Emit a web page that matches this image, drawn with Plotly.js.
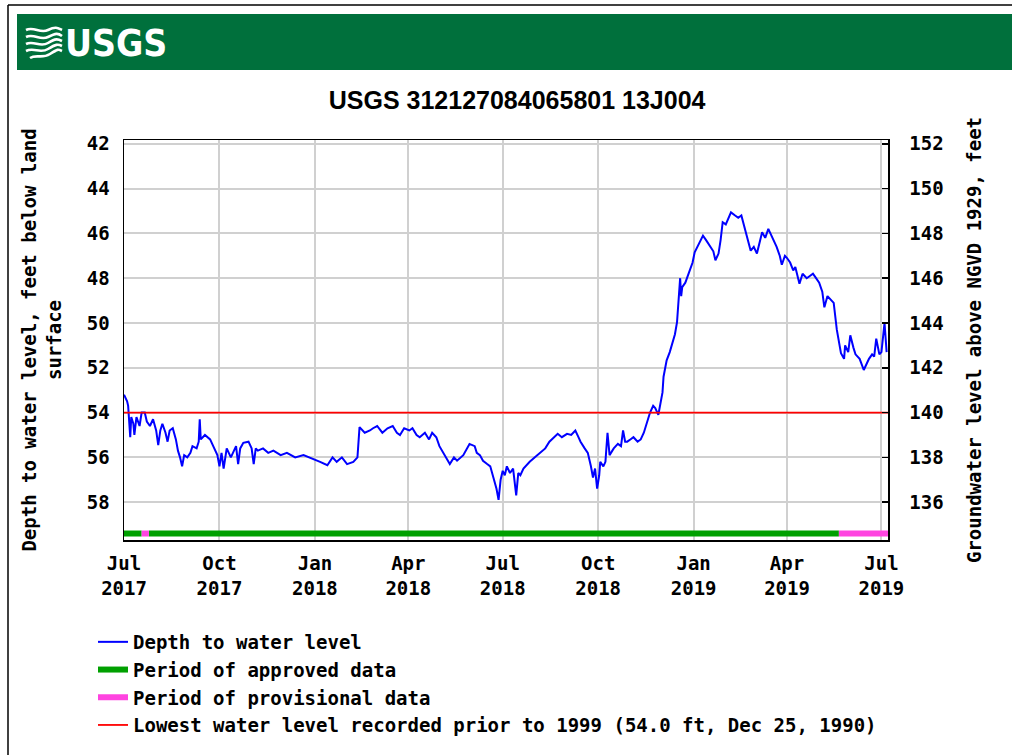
<!DOCTYPE html>
<html>
<head>
<meta charset="utf-8">
<script src="https://cdn.plot.ly/plotly-3.0.1.min.js"></script>
<style>html,body{margin:0;padding:0;background:#fff;}#chart{width:1012px;height:755px;}</style>
</head>
<body>
<div id="chart"></div>
<script>
// ---- data ----
const depthDates = [
'2017-07-01','2017-07-04','2017-07-05','2017-07-07','2017-07-08','2017-07-10','2017-07-11','2017-07-13','2017-07-16','2017-07-18',
'2017-07-21','2017-07-23','2017-07-26','2017-07-29','2017-08-01','2017-08-03','2017-08-05','2017-08-07','2017-08-10','2017-08-12',
'2017-08-14','2017-08-17','2017-08-20','2017-08-22','2017-08-24','2017-08-26','2017-08-28','2017-08-31','2017-09-03','2017-09-05',
'2017-09-09','2017-09-11','2017-09-12','2017-09-13','2017-09-17','2017-09-22','2017-09-25','2017-09-29','2017-10-01','2017-10-03',
'2017-10-05','2017-10-08','2017-10-12','2017-10-17','2017-10-19','2017-10-21','2017-10-24','2017-10-29','2017-11-01','2017-11-03',
'2017-11-05','2017-11-07','2017-11-12','2017-11-17','2017-11-22','2017-11-29','2017-12-05','2017-12-13','2017-12-21','2017-12-30',
'2018-01-06','2018-01-13','2018-01-18','2018-01-22','2018-01-27','2018-02-01','2018-02-07','2018-02-11','2018-02-13','2018-02-18',
'2018-02-23','2018-02-26','2018-03-02','2018-03-07','2018-03-12','2018-03-17','2018-03-21','2018-03-24','2018-03-28','2018-04-02',
'2018-04-05','2018-04-09','2018-04-12','2018-04-17','2018-04-21','2018-04-24','2018-04-28','2018-05-01','2018-05-06','2018-05-11',
'2018-05-15','2018-05-18','2018-05-24','2018-05-30','2018-06-04','2018-06-06','2018-06-09','2018-06-12','2018-06-16','2018-06-19',
'2018-06-22','2018-06-25','2018-06-27','2018-06-29','2018-07-01','2018-07-03','2018-07-05','2018-07-08','2018-07-11','2018-07-14',
'2018-07-16','2018-07-18','2018-07-21','2018-07-25','2018-07-27','2018-08-01','2018-08-06','2018-08-11','2018-08-15','2018-08-20',
'2018-08-23','2018-08-27','2018-09-01','2018-09-05','2018-09-09','2018-09-12','2018-09-14','2018-09-18','2018-09-21','2018-09-24',
'2018-09-26','2018-09-28','2018-09-30','2018-10-02','2018-10-03','2018-10-06','2018-10-08','2018-10-10','2018-10-12','2018-10-16',
'2018-10-20','2018-10-23','2018-10-25','2018-10-27','2018-10-29','2018-11-01','2018-11-04','2018-11-08','2018-11-11','2018-11-14',
'2018-11-16','2018-11-18','2018-11-20','2018-11-23','2018-11-25','2018-11-28','2018-11-30','2018-12-02','2018-12-03','2018-12-05',
'2018-12-06','2018-12-09','2018-12-12','2018-12-14','2018-12-16','2018-12-18','2018-12-19','2018-12-20','2018-12-21','2018-12-24',
'2018-12-28','2018-12-31','2019-01-02','2019-01-06','2019-01-10','2019-01-13','2019-01-17','2019-01-20','2019-01-22','2019-01-25',
'2019-01-27','2019-01-29','2019-02-01','2019-02-06','2019-02-10','2019-02-13','2019-02-16','2019-02-20','2019-02-25','2019-02-28',
'2019-03-03','2019-03-08','2019-03-11','2019-03-14','2019-03-18','2019-03-22','2019-03-25','2019-03-27','2019-03-30','2019-04-01',
'2019-04-04','2019-04-07','2019-04-09','2019-04-13','2019-04-16','2019-04-20','2019-04-23','2019-04-26','2019-04-29','2019-05-02',
'2019-05-05','2019-05-07','2019-05-10','2019-05-11','2019-05-16','2019-05-19','2019-05-21','2019-05-23','2019-05-26','2019-05-27',
'2019-05-30','2019-06-01','2019-06-04','2019-06-06','2019-06-10','2019-06-12','2019-06-14','2019-06-17','2019-06-19','2019-06-22',
'2019-06-24','2019-06-26','2019-06-29','2019-07-01','2019-07-04','2019-07-06'
];
const depthValues = [
53.2,53.5,53.7,55.1,54.2,54.5,55.0,54.2,54.6,54.0,
54.0,54.4,54.6,54.3,54.8,55.45,54.8,54.5,54.9,55.3,
54.8,54.7,55.2,55.7,56.0,56.4,55.9,56.0,55.8,55.5,
55.6,55.3,54.3,55.2,55.0,55.2,55.5,55.9,56.4,55.8,
56.5,55.6,56.0,55.5,56.3,55.6,55.35,55.3,55.6,56.3,
55.6,55.7,55.6,55.8,55.7,55.9,55.8,56.0,55.9,56.05,
56.2,56.35,56.0,56.2,56.0,56.3,56.2,56.0,54.65,54.9,
54.8,54.7,54.6,54.9,54.7,54.6,54.9,55.0,54.7,54.8,
54.7,55.0,55.1,54.9,55.2,54.9,55.1,55.5,55.9,56.3,
56.0,56.15,55.9,55.4,55.5,55.8,55.9,56.15,56.3,56.4,
56.9,57.4,57.9,57.0,56.6,56.8,56.4,56.7,56.5,57.7,
56.7,56.8,56.5,56.3,56.2,56.0,55.8,55.6,55.3,55.1,
54.95,55.1,54.95,55.0,54.8,55.1,55.3,55.6,55.8,56.4,
56.9,56.5,57.4,56.8,56.2,56.4,56.2,54.9,55.9,55.6,
55.4,55.5,54.8,55.3,55.3,55.2,55.1,55.3,55.2,54.9,
54.6,54.2,54.0,53.7,53.8,54.1,53.6,53.1,52.4,52.0,
51.67,51.3,50.8,50.5,49.96,48.85,48.0,48.8,48.4,48.2,
47.73,47.3,46.84,46.5,46.1,46.3,46.6,46.8,47.2,46.9,
46.3,45.5,45.6,45.06,45.2,45.3,45.2,45.9,46.77,46.6,
46.9,45.95,46.2,45.8,46.2,46.6,47.0,47.4,47.0,47.1,
47.3,47.65,47.5,48.25,47.8,48.0,47.9,47.8,48.0,48.2,
48.6,49.3,48.8,48.85,49.1,50.3,50.9,51.35,51.6,51.0,
51.3,50.55,51.1,51.4,51.6,51.9,52.1,51.8,51.6,51.4,
51.5,50.7,51.4,51.3,50.0,51.3
];
// approval periods (null separates periods)
const approvedDates = ['2017-07-01','2017-07-18',null,'2017-07-25','2019-05-21'];
const provisionalDates = ['2017-07-18','2017-07-25',null,'2019-05-21','2019-07-08'];
const periodBarLevel = 59.4;
const lowestLevel = 54.0;
const lowestDates = ['2017-07-01','2019-07-08'];
const xRange = ['2017-07-01','2019-07-07 08:00'];
const leftTicks = [42,44,46,48,50,52,54,56,58];
const rightTicks = [136,138,140,142,144,146,148,150,152];
const datumOffset = 194; // NGVD elevation = 194 - depth
const leftRange = [59.69, 41.83];

const mono = 'DejaVu Sans Mono, Liberation Mono, monospace';
const F = (s) => ({family: mono, size: s, color: '#000', weight: 'bold'});

const traces = [
  {x: depthDates, y: depthValues, type: 'scatter', mode: 'lines', name: 'Depth to water level',
   line: {color: '#0000ff', width: 2}, legendgroup: 'a'},
  {x: approvedDates, y: approvedDates.map(d => d === null ? null : periodBarLevel), type: 'scatter', mode: 'lines',
   name: 'Period of approved data', line: {color: '#00a000', width: 6}, connectgaps: false, legendgroup: 'b'},
  {x: provisionalDates, y: provisionalDates.map(d => d === null ? null : periodBarLevel), type: 'scatter', mode: 'lines',
   name: 'Period of provisional data', line: {color: '#ff44e0', width: 6}, connectgaps: false, legendgroup: 'c'},
  {x: lowestDates, y: lowestDates.map(() => lowestLevel), type: 'scatter', mode: 'lines',
   name: 'Lowest water level recorded prior to 1999 (54.0 ft, Dec 25, 1990)', line: {color: '#ff0000', width: 1.8}, legendgroup: 'd'},
  {x: [], y: [], yaxis: 'y2', type: 'scatter', mode: 'lines', showlegend: false, hoverinfo: 'skip'}
];

// pixel helpers for decorations (plot area: l=124, w=764, top=140, h=400)
const px = (x) => (x - 124) / 764;
const py = (y) => (540 - y) / 400;

const wavePaths = [
  'M26,-30 C34,-26 40,-34 48,-30 S58,-28 62,-30',
  'M26,-37 C34,-33 40,-41 48,-37 S58,-33 62,-36',
  'M26,-44 C34,-40 40,-48 48,-43 S58,-39 62,-41',
  'M26,-51 C34,-47 40,-54 48,-49 S58,-44 62,-46',
  'M30,-58 C36,-54 42,-59 50,-54 S58,-49 62,-51'
];

const shapes = [
  {type: 'rect', xref: 'paper', yref: 'paper', x0: px(17), x1: px(1014), y0: py(70), y1: py(14),
   fillcolor: '#00703c', line: {width: 0}, layer: 'below'},
  {type: 'line', xref: 'paper', yref: 'paper', x0: px(8), x1: px(8), y0: py(5), y1: py(760), line: {color: '#000', width: 1.5}},
  {type: 'line', xref: 'paper', yref: 'paper', x0: px(8), x1: px(1014), y0: py(5), y1: py(5), line: {color: '#000', width: 1.5}}
].concat(wavePaths.map(p => ({type: 'path', xref: 'paper', yref: 'paper', xsizemode: 'pixel', ysizemode: 'pixel',
   xanchor: px(0), yanchor: py(0), path: p, line: {color: '#fff', width: 2.6}})));

const layout = {
  width: 1012, height: 755,
  margin: {l: 124, r: 124, t: 140, b: 215, autoexpand: false},
  paper_bgcolor: '#fff', plot_bgcolor: '#fff',
  showlegend: true,
  title: {text: 'USGS 312127084065801 13J004', xref: 'container', x: 0.511, xanchor: 'center',
          yref: 'container', y: 1 - 100/755, yanchor: 'middle',
          font: {family: 'Liberation Sans Narrow, Arial Narrow, Liberation Sans, Arial, sans-serif', size: 25, color: '#000', weight: 'bold'}},
  xaxis: {type: 'date', range: xRange, tick0: '2017-07-01', dtick: 'M3', tickformat: '%b<br>%Y',
          showgrid: true, gridcolor: '#d0d0d0', gridwidth: 2, showline: true, linecolor: '#000', linewidth: 1.5,
          mirror: true, ticks: '', zeroline: false, tickfont: F(19), ticklabelstandoff: 6, fixedrange: true},
  yaxis: {range: leftRange, tickvals: leftTicks, ticktext: leftTicks.map(String), showgrid: true, gridcolor: '#d0d0d0', gridwidth: 2,
          showline: true, linecolor: '#000', linewidth: 1.5, mirror: true, ticks: '', zeroline: false,
          tickfont: F(19), ticklabelstandoff: 9,
          title: {text: 'Depth to water level, feet below land<br>surface', font: F(19), standoff: 20}},
  yaxis2: {overlaying: 'y', side: 'right', range: leftRange.map(v => datumOffset - v), tickvals: rightTicks,
           ticktext: rightTicks.map(String), showgrid: false, zeroline: false, ticks: 'inside', ticklen: 6, tickcolor: '#000', tickwidth: 1.5,
           showline: true, linecolor: '#000', linewidth: 1.5, tickfont: F(19), ticklabelstandoff: 16,
           title: {text: 'Groundwater level above NGVD 1929, feet', font: F(19), standoff: 25}},
  legend: {x: px(93), xanchor: 'left', y: py(623), yanchor: 'top', orientation: 'v', font: F(19),
           bgcolor: 'rgba(0,0,0,0)', borderwidth: 0, itemwidth: 30, tracegroupgap: 0, traceorder: 'normal'},
  shapes: shapes,
  annotations: [
    {text: 'USGS', xref: 'paper', yref: 'paper', x: px(63), y: py(43), xanchor: 'left', yanchor: 'middle', showarrow: false,
     font: {family: 'Liberation Sans Narrow, Arial Narrow, DejaVu Sans Condensed, sans-serif', size: 37, color: '#fff', weight: 'bold'}}
  ]
};

Plotly.newPlot('chart', traces, layout, {displayModeBar: false, staticPlot: true});
</script>
</body>
</html>
